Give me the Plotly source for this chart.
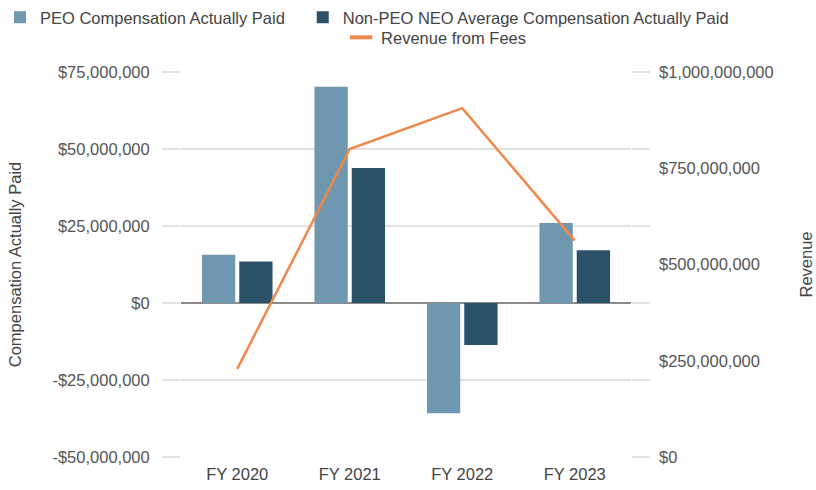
import plotly.graph_objects as go

years = ["FY 2020", "FY 2021", "FY 2022", "FY 2023"]
peo_cap = [15.7e6, 70.2e6, -35.8e6, 26.0e6]
neo_cap = [13.5e6, 43.8e6, -13.6e6, 17.1e6]
revenue = [229e6, 800e6, 906e6, 562e6]

left_tickvals = [-50e6, -25e6, 0, 25e6, 50e6, 75e6]
left_ticktext = ["-$50,000,000", "-$25,000,000", "$0", "$25,000,000", "$50,000,000", "$75,000,000"]
right_tickvals = [0, 250e6, 500e6, 750e6, 1000e6]
right_ticktext = ["$0", "$250,000,000", "$500,000,000", "$750,000,000", "$1,000,000,000"]

C_PEO = "#6f97b0"
C_NEO = "#2b5168"
C_REV = "#f0884a"
GRID = "#e2e2e2"
FONT = "Liberation Sans, Arial, sans-serif"
FS = 16.5

fig = go.Figure()
fig.add_trace(go.Bar(x=years, y=peo_cap, name="PEO Compensation Actually Paid",
                     marker=dict(color=C_PEO, line=dict(width=0)), legend="legend"))
fig.add_trace(go.Bar(x=years, y=neo_cap, name="Non-PEO NEO Average Compensation Actually Paid",
                     marker=dict(color=C_NEO, line=dict(width=0)), legend="legend3"))
fig.add_trace(go.Scatter(x=years, y=revenue, name="Revenue from Fees", mode="lines",
                         line=dict(color=C_REV, width=2.5), yaxis="y2", showlegend=False))
# legend entry for the line (short thick dash like the reference)
fig.add_trace(go.Scatter(x=[None], y=[None], name="Revenue from Fees", mode="markers",
                         marker=dict(symbol="line-ew", size=17, line=dict(color=C_REV, width=4)),
                         yaxis="y2", legend="legend2"))

leg_common = dict(orientation="h", xref="container", yref="container",
                  xanchor="left", yanchor="top",
                  font=dict(size=FS, color="#444"), bgcolor="rgba(0,0,0,0)")

fig.update_layout(
    width=816, height=490,
    margin=dict(l=181, r=185, t=72, b=33, autoexpand=False),
    paper_bgcolor="white", plot_bgcolor="white",
    font=dict(family=FONT, size=FS, color="#444"),
    barmode="group", bargap=0.337, bargroupgap=0.107,
    xaxis=dict(showgrid=False, showline=False, ticks="", zeroline=False, automargin=False,
               tickfont=dict(size=FS, color="#444"), ticklabelstandoff=5),
    yaxis=dict(range=[-50e6, 75e6], tickvals=left_tickvals, ticktext=left_ticktext,
               showgrid=True, gridcolor=GRID, gridwidth=1.5, automargin=False,
               zeroline=True, zerolinecolor="#8a8a8a", zerolinewidth=1.5,
               ticks="outside", ticklen=18, tickcolor=GRID, tickwidth=1.5, mirror="ticks",
               showline=False, ticklabelstandoff=9,
               tickfont=dict(size=FS, color="#555"),
               title=dict(text="Compensation Actually Paid", standoff=26,
                          font=dict(size=FS, color="#444"))),
    yaxis2=dict(range=[0, 1000e6], tickvals=right_tickvals, ticktext=right_ticktext,
                overlaying="y", side="right", showgrid=False, zeroline=False, automargin=False,
                showline=False, ticks="", ticklabelstandoff=27,
                tickfont=dict(size=FS, color="#555"),
                title=dict(text="Revenue", standoff=27, font=dict(size=FS, color="#444"))),
    legend=dict(x=0.0, y=1.0, **leg_common),
    legend3=dict(x=0.371, y=1.0, **leg_common),
    legend2=dict(x=0.418, y=0.959, **leg_common),
)

fig.write_html("out.html", config={"displayModeBar": False},
               post_script="document.body.style.margin='0';")
